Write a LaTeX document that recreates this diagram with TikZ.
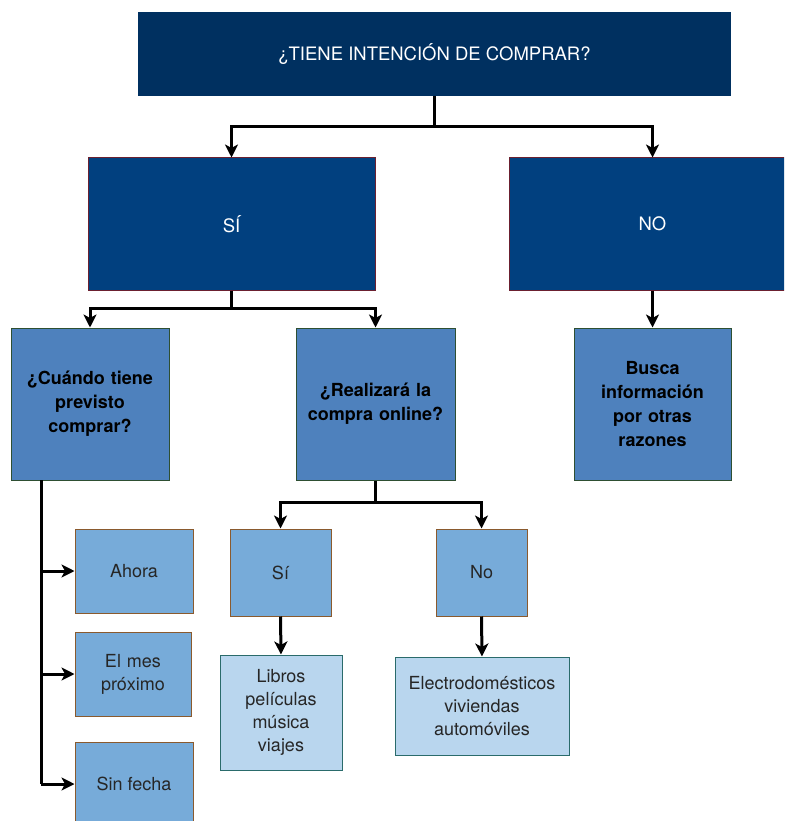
\documentclass[tikz,border=0pt]{standalone}
\usepackage{fontspec}
\setmainfont{TeX Gyre Heros}
\usetikzlibrary{arrows.meta}
\definecolor{navy}{HTML}{003060}
\definecolor{bluea}{HTML}{01407F}
\definecolor{redb}{HTML}{6B2030}
\definecolor{bluem}{HTML}{4E81BD}
\definecolor{greenb}{HTML}{2E4F32}
\definecolor{bluel}{HTML}{77ABD9}
\definecolor{brownb}{HTML}{8A5A2E}
\definecolor{bluell}{HTML}{B9D6EE}
\definecolor{tealb}{HTML}{2A6B6B}
\tikzset{
  box/.style={rectangle, inner sep=0pt, align=center, line width=1pt},
  topbox/.style={box, fill=navy, draw=none, text=white, font=\fontsize{18.5}{22}\selectfont},
  lvlone/.style={box, fill=bluea, draw=redb, text=white, font=\fontsize{18.5}{22}\selectfont},
  lvltwo/.style={box, fill=bluem, draw=greenb, text=black, font=\bfseries\fontsize{18}{24}\selectfont},
  lvlthree/.style={box, fill=bluel, draw=brownb, text=black!85, font=\fontsize{18}{23}\selectfont},
  lvlfour/.style={box, fill=bluell, draw=tealb, text=black!85, font=\fontsize{18}{23}\selectfont},
  conn/.style={line width=3pt, -{Stealth[length=13pt,width=13pt,inset=3.5pt]}},
  plain/.style={line width=3pt}
}
\begin{document}
\begin{tikzpicture}[x=1pt,y=-1pt]
\useasboundingbox (0,0) rectangle (784,821);
\clip (0,0) rectangle (784,821);
\node[topbox, minimum width=593pt, minimum height=84pt] (top) at (434.5,54) {¿TIENE INTENCIÓN DE COMPRAR?};
\node[lvlone, minimum width=287pt, minimum height=132pt] (si) at (231.5,224) {SÍ};
\node[lvlone, minimum width=287pt, minimum height=132pt] (no) at (652.5,224) {NO};
\node[lvltwo, minimum width=158pt, minimum height=152pt, text width=155pt] (cuando) at (90,404) {¿Cuándo tiene\\previsto\\comprar?};
\node[lvltwo, minimum width=159pt, minimum height=152pt, text width=157pt] (online) at (375.5,404) {¿Realizará la\\compra online?};
\node[lvltwo, minimum width=157pt, minimum height=152pt, text width=150pt] (busca) at (652.5,404) {Busca\\información\\por otras\\razones};
\node[lvlthree, minimum width=118pt, minimum height=84pt] (ahora) at (134,571) {Ahora};
\node[lvlthree, minimum width=116pt, minimum height=84pt, text width=112pt] (mes) at (133,674) {El mes\\próximo};
\node[lvlthree, minimum width=118pt, minimum height=84pt] (sinf) at (134,784) {Sin fecha};
\node[lvlthree, minimum width=101pt, minimum height=87pt] (sis) at (280.5,572.5) {Sí};
\node[lvlthree, minimum width=91pt, minimum height=87pt] (nos) at (481.5,572.5) {No};
\node[lvlfour, minimum width=122pt, minimum height=115pt, text width=118pt] (libros) at (281,712.5) {Libros\\películas\\música\\viajes};
\node[lvlfour, minimum width=174pt, minimum height=98pt, text width=172pt] (electro) at (482,706) {Electrodomésticos\\viviendas\\automóviles};
% top -> si / no
\coordinate (t1) at (434.5,127);
\draw[plain] (top.south) -- (t1);
\draw[conn] (t1) -| (si.north);
\draw[conn] (t1) -| (no.north);
% si -> cuando / online
\coordinate (s1) at (231.5,308);
\draw[plain] (si.south) -- (s1);
\draw[conn] (s1) -| (cuando.north);
\draw[conn] (s1) -| (online.north);
% no -> busca
\draw[conn] (no.south) -- (busca.north);
% cuando -> ahora, mes, sinf
\coordinate (c0) at (41,480);
\coordinate (c3) at (41,784);
\draw[plain] (c0) -- (c3);
\draw[conn] (41,571) -- (ahora.west);
\draw[conn] (41,674) -- (mes.west);
\draw[conn] (c3) -- (sinf.west);
% online -> sis / nos
\coordinate (o1) at (375.5,502);
\draw[plain] (online.south) -- (o1);
\draw[conn] (o1) -| (sis.north);
\draw[conn] (o1) -| (nos.north);
% leaves
\draw[conn] (sis.south) -- (libros.north);
\draw[conn] (nos.south) -- (electro.north);
\end{tikzpicture}
\end{document}
